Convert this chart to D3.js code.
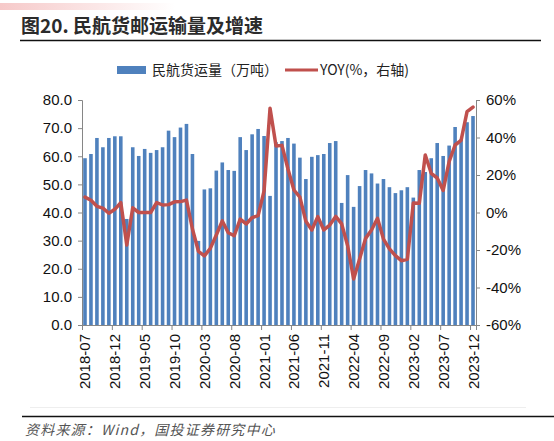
<!DOCTYPE html>
<html>
<head>
<meta charset="utf-8">
<script src="https://d3js.org/d3.v7.min.js"></script>
<style>
 body { margin:0; background:#fff; }
 svg { display:block; }
</style>
</head>
<body>
<div id="chart"></div>
<script>
var months = ["2018-07","2018-08","2018-09","2018-10","2018-11","2018-12",
 "2019-01","2019-02","2019-03","2019-04","2019-05","2019-06","2019-07","2019-08","2019-09","2019-10","2019-11","2019-12",
 "2020-01","2020-02","2020-03","2020-04","2020-05","2020-06","2020-07","2020-08","2020-09","2020-10","2020-11","2020-12",
 "2021-01","2021-02","2021-03","2021-04","2021-05","2021-06","2021-07","2021-08","2021-09","2021-10","2021-11","2021-12",
 "2022-01","2022-02","2022-03","2022-04","2022-05","2022-06","2022-07","2022-08","2022-09","2022-10","2022-11","2022-12",
 "2023-01","2023-02","2023-03","2023-04","2023-05","2023-06","2023-07","2023-08","2023-09","2023-10","2023-11","2023-12"];

// 民航货运量（万吨）
var cargo = [59.3,60.8,66.5,63.2,66.5,67.1,
 67.1,37.7,63.2,60.1,62.6,61.2,62.2,63.2,69.1,66.8,70.2,71.5,
 60.8,29.9,48.2,48.6,54.9,57.8,55.1,54.8,66.8,62.2,67.8,69.7,
 67.2,45.9,65.0,65.4,66.5,64.5,59.5,51.9,59.8,60.4,60.8,64.7,
 65.4,43.4,53.3,42.0,49.4,55.1,53.9,50.3,51.9,49.0,46.9,47.9,
 49.0,45.3,55.1,54.4,59.3,64.7,60.1,63.8,70.4,66.0,72.1,74.3];

// YOY (%)
var yoy = [8.2,6.5,3.3,2.3,-0.4,1.7,
 5.3,-17.3,2.5,0.0,0.0,0.0,5.3,4.0,4.2,5.7,5.8,6.6,
 -8.8,-20.7,-23.1,-19.1,-12.0,-4.5,-10.8,-12.4,-3.5,-6.1,-2.7,-1.7,
 11.5,55.6,35.5,35.8,23.2,12.0,8.2,-4.7,-9.3,-2.2,-9.3,-6.7,
 -2.1,-6.1,-17.7,-35.5,-24.8,-13.8,-9.3,-3.1,-14.2,-19.4,-23.0,-25.7,
 -25.0,5.1,4.9,30.7,20.9,18.4,11.8,27.1,36.0,38.5,53.8,56.2];

var leftTicks = [0,10,20,30,40,50,60,70,80];
var rightTicks = [-60,-40,-20,0,20,40,60];
var labelMonths = months.filter(function(d,i){ return i % 5 == 0; });

var w = 554, h = 441;
var svg = d3.select("#chart").append("svg").attr("width", w).attr("height", h);

// faded strip at the top
var grad = svg.append("defs").append("linearGradient").attr("id","fade");
grad.append("stop").attr("offset","0%").attr("stop-color","#f6c9c9");
grad.append("stop").attr("offset","100%").attr("stop-color","#ffffff");
svg.append("rect").attr("x",0).attr("y",3).attr("width",175).attr("height",7).attr("fill","url(#fade)");

// title
svg.append("text").attr("x",21).attr("y",33)
 .attr("font-family","'Noto Sans CJK SC', sans-serif").attr("font-size",19).attr("font-weight","bold")
 .attr("fill","#2b2b2b").text("图20. 民航货邮运输量及增速");
svg.append("line").attr("x1",20).attr("x2",541).attr("y1",40.5).attr("y2",40.5)
 .attr("stroke","#111").attr("stroke-width",1.5);

var x = d3.scaleBand().domain(months).range([82,476]).paddingInner(0.4).paddingOuter(0.2);
var yL = d3.scaleLinear().domain([0,80]).range([325,100]);
var yR = d3.scaleLinear().domain([-60,60]).range([325,100]);
var step = x.step(), bw = x.bandwidth();

// bars
svg.append("g").selectAll("rect")
 .data(cargo).enter().append("rect")
 .attr("x", function(d,i){ return x(months[i]); })
 .attr("y", function(d){ return yL(d); })
 .attr("width", bw)
 .attr("height", function(d){ return 325 - yL(d); })
 .attr("fill", "#4f81bd");

// line
var line = d3.line()
 .x(function(d,i){ return x(months[i]) + bw/2; })
 .y(function(d){ return yR(d); });
svg.append("path").datum(yoy)
 .attr("d", line).attr("fill","none")
 .attr("stroke","#c0504d").attr("stroke-width",3.5)
 .attr("stroke-linejoin","round").attr("stroke-linecap","round");

// axes
var axisColor = "#868686";
var gl = svg.append("g").attr("transform","translate(82,0)")
 .call(d3.axisLeft(yL).tickValues(leftTicks).tickFormat(d3.format(".1f")).tickSize(4).tickPadding(6));
var gr = svg.append("g").attr("transform","translate(476,0)")
 .call(d3.axisRight(yR).tickValues(rightTicks).tickFormat(function(d){ return d + "%"; }).tickSize(4).tickPadding(6));
var gb = svg.append("g").attr("transform","translate(0,325)")
 .call(d3.axisBottom(x).tickValues(labelMonths).tickSize(5).tickFormat(""));
gb.selectAll(".tick line").attr("x1", -step/2 + 0.5).attr("x2", -step/2 + 0.5);

[gl, gr, gb].forEach(function(g){
 g.select(".domain").attr("stroke", axisColor);
 g.selectAll(".tick line").attr("stroke", axisColor);
 g.selectAll("text").attr("font-family","'Liberation Sans', Arial, sans-serif")
  .attr("font-size",15).attr("fill","#111");
});

// rotated month labels
svg.append("g").selectAll("text")
 .data(labelMonths).enter().append("text")
 .attr("x", function(d){ return x(d) + bw/2; })
 .attr("y", 334)
 .attr("transform", function(d){ return "rotate(-90," + (x(d) + bw/2) + ",334)"; })
 .attr("text-anchor","end").attr("dominant-baseline","central")
 .attr("font-family","'Liberation Sans', Arial, sans-serif").attr("font-size",15).attr("fill","#111")
 .text(function(d){ return d; });

// legend
var lg = svg.append("g").attr("font-family","'Noto Sans CJK SC', sans-serif").attr("font-size",14).attr("fill","#222");
lg.append("rect").attr("x",117).attr("y",66).attr("width",29).attr("height",8).attr("fill","#4f81bd");
lg.append("text").attr("x",152).attr("y",75).text("民航货运量（万吨）");
lg.append("line").attr("x1",285).attr("x2",318).attr("y1",70).attr("y2",70)
 .attr("stroke","#c0504d").attr("stroke-width",3);
lg.append("text").attr("x",320).attr("y",75).text("YOY(%，右轴)");

// bottom
svg.append("line").attr("x1",30).attr("x2",526).attr("y1",407.5).attr("y2",407.5)
 .attr("stroke","#eeeeee").attr("stroke-width",1);
svg.append("line").attr("x1",22).attr("x2",554).attr("y1",416.5).attr("y2",416.5)
 .attr("stroke","#111").attr("stroke-width",1.5);
svg.append("text").attr("x",25).attr("y",435)
 .attr("font-family","'Noto Sans CJK SC', sans-serif").attr("font-size",14)
 .attr("font-style","italic").attr("letter-spacing",1.2).attr("fill","#555")
 .text("资料来源：Wind，国投证券研究中心");
</script>
</body>
</html>
